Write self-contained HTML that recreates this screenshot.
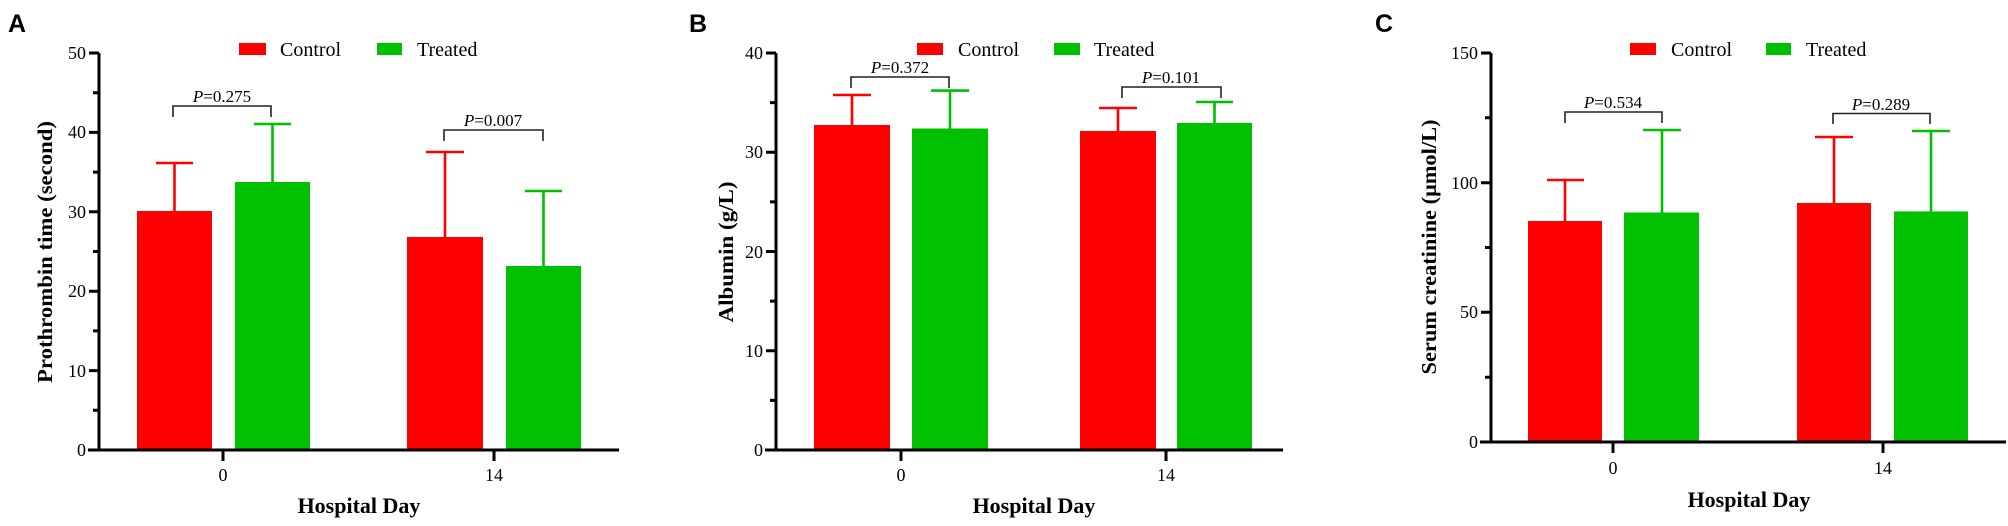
<!DOCTYPE html>
<html><head><meta charset="utf-8"><style>
html,body{margin:0;padding:0;background:#fff;}
svg{display:block;}
text{font-family:"Liberation Serif",serif;fill:#000;}
.lab{font-family:"Liberation Sans",sans-serif;font-weight:bold;font-size:25px;}
.tk{font-size:18px;}
.leg{font-size:20px;}
.yl{font-size:21px;font-weight:bold;}
.xl{font-size:22px;font-weight:bold;}
.p{font-size:17px;}
.ax{stroke:#000;stroke-width:3;fill:none;}
.br{stroke:#222;stroke-width:1.6;fill:none;}
.er{stroke:#ff0000;stroke-width:2.6;fill:none;}
.eg{stroke:#00c000;stroke-width:2.6;fill:none;}
</style></head><body>
<svg width="2008" height="526" viewBox="0 0 2008 526" xmlns="http://www.w3.org/2000/svg">
<!-- Panel A -->
<text class="lab" x="8" y="32">A</text>
<rect x="239" y="43" width="27" height="12" fill="#ff0000"/><text class="leg" x="280" y="56">Control</text>
<rect x="377" y="43" width="25" height="12" fill="#00c000"/><text class="leg" x="417" y="56">Treated</text>
<rect x="137" y="211" width="75" height="239" fill="#ff0000"/>
<rect x="235" y="182" width="75" height="268" fill="#00c000"/>
<rect x="407" y="237" width="76" height="213" fill="#ff0000"/>
<rect x="506" y="266" width="75" height="184" fill="#00c000"/>
<path class="er" d="M174.5 211V163M156 163H193"/>
<path class="eg" d="M272.5 182V124M254 124H291"/>
<path class="er" d="M445 237V152M426 152H464"/>
<path class="eg" d="M543.5 266V191M525 191H562"/>
<path class="br" d="M173 117V106H271V117"/><text class="p" x="222" y="102" text-anchor="middle"><tspan font-style="italic">P</tspan>=0.275</text>
<path class="br" d="M444 141V130H543V141"/><text class="p" x="493" y="126" text-anchor="middle"><tspan font-style="italic">P</tspan>=0.007</text>
<path class="ax" d="M99 53V450M88 450H619M89 53H99M93 92.7H99M89 132.4H99M93 172.1H99M89 211.8H99M93 251.5H99M89 291.2H99M93 330.9H99M89 370.6H99M93 410.3H99M223 450V461M494 450V461"/>
<g class="tk" text-anchor="end"><text x="86" y="59">50</text><text x="86" y="138">40</text><text x="86" y="218">30</text><text x="86" y="297">20</text><text x="86" y="377">10</text><text x="86" y="456">0</text></g>
<g class="tk" text-anchor="middle"><text x="223" y="481">0</text><text x="494" y="481">14</text></g>
<text class="yl" transform="translate(52,252) rotate(-90)" text-anchor="middle" textLength="262" lengthAdjust="spacingAndGlyphs">Prothrombin time (second)</text>
<text class="xl" x="359" y="513" text-anchor="middle">Hospital Day</text>

<!-- Panel B -->
<text class="lab" x="689" y="32">B</text>
<rect x="917" y="43" width="26" height="12" fill="#ff0000"/><text class="leg" x="958" y="56">Control</text>
<rect x="1054" y="43" width="26" height="12" fill="#00c000"/><text class="leg" x="1094" y="56">Treated</text>
<rect x="814" y="125" width="76" height="325" fill="#ff0000"/>
<rect x="912" y="128.5" width="76" height="321.5" fill="#00c000"/>
<rect x="1080" y="131" width="76" height="319" fill="#ff0000"/>
<rect x="1177" y="123" width="75" height="327" fill="#00c000"/>
<path class="er" d="M852 125V95M833 95H871"/>
<path class="eg" d="M950 128.5V90.6M931 90.6H969"/>
<path class="er" d="M1118 131V108M1099 108H1137"/>
<path class="eg" d="M1214.5 123V102M1196 102H1233"/>
<path class="br" d="M851 88V77H949V88"/><text class="p" x="900" y="73" text-anchor="middle"><tspan font-style="italic">P</tspan>=0.372</text>
<path class="br" d="M1122 98V87H1221V98"/><text class="p" x="1171" y="83" text-anchor="middle"><tspan font-style="italic">P</tspan>=0.101</text>
<path class="ax" d="M776 53V450M765 450H1283M766 53H776M770 102.6H776M766 152.3H776M770 201.9H776M766 251.5H776M770 301.1H776M766 350.8H776M770 400.4H776M901 450V461M1166 450V461"/>
<g class="tk" text-anchor="end"><text x="763" y="59">40</text><text x="763" y="158">30</text><text x="763" y="258">20</text><text x="763" y="357">10</text><text x="763" y="456">0</text></g>
<g class="tk" text-anchor="middle"><text x="901" y="481">0</text><text x="1166" y="481">14</text></g>
<text class="yl" transform="translate(733,252) rotate(-90)" text-anchor="middle" textLength="141" lengthAdjust="spacingAndGlyphs">Albumin (g/L)</text>
<text class="xl" x="1034" y="513" text-anchor="middle">Hospital Day</text>

<!-- Panel C -->
<text class="lab" x="1375" y="32">C</text>
<rect x="1630" y="43" width="26" height="12" fill="#ff0000"/><text class="leg" x="1671" y="56">Control</text>
<rect x="1766" y="43" width="25" height="12" fill="#00c000"/><text class="leg" x="1806" y="56">Treated</text>
<rect x="1528" y="221" width="74" height="221" fill="#ff0000"/>
<rect x="1624" y="212.5" width="75" height="229.5" fill="#00c000"/>
<rect x="1797" y="203" width="74" height="239" fill="#ff0000"/>
<rect x="1894" y="211.4" width="74" height="230.6" fill="#00c000"/>
<path class="er" d="M1565 221V180M1547 180H1584"/>
<path class="eg" d="M1662 212.5V130M1643 130H1681"/>
<path class="er" d="M1834 203V137M1815 137H1853"/>
<path class="eg" d="M1931 211.4V131M1912 131H1950"/>
<path class="br" d="M1565 123V112H1662V123"/><text class="p" x="1613" y="108" text-anchor="middle"><tspan font-style="italic">P</tspan>=0.534</text>
<path class="br" d="M1833 124V113.5H1930V124"/><text class="p" x="1881" y="110" text-anchor="middle"><tspan font-style="italic">P</tspan>=0.289</text>
<path class="ax" d="M1491 53V442M1480 442H2006M1481 53H1491M1485 117.8H1491M1481 182.7H1491M1485 247.5H1491M1481 312.3H1491M1485 377.2H1491M1613 442V453M1883 442V453"/>
<g class="tk" text-anchor="end"><text x="1478" y="59">150</text><text x="1478" y="189">100</text><text x="1478" y="318">50</text><text x="1478" y="448">0</text></g>
<g class="tk" text-anchor="middle"><text x="1613" y="474">0</text><text x="1883" y="474">14</text></g>
<text class="yl" transform="translate(1436,247) rotate(-90)" text-anchor="middle" textLength="255" lengthAdjust="spacingAndGlyphs">Serum creatinine (μmol/L)</text>
<text class="xl" x="1749" y="507" text-anchor="middle">Hospital Day</text>
</svg>
</body></html>
